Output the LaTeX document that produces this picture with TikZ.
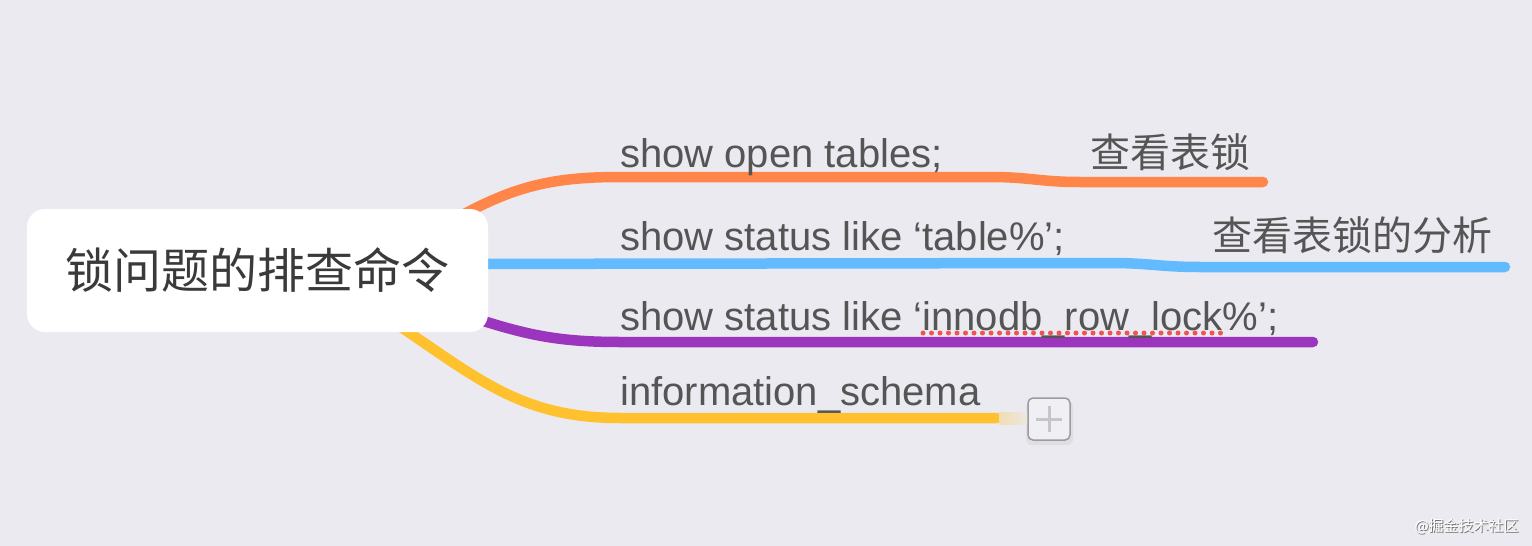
\documentclass[tikz,border=0pt]{standalone}
\usepackage{fontspec}
\setmainfont{Liberation Sans}
\newfontfamily\cjk{Noto Sans CJK SC}
\usetikzlibrary{calc}
\definecolor{bg}{HTML}{EBEAF0}
\definecolor{orangec}{HTML}{FF8548}
\definecolor{bluec}{HTML}{62BAFF}
\definecolor{purplec}{HTML}{9B35BD}
\definecolor{yellowc}{HTML}{FFC22E}
\definecolor{txt}{HTML}{555555}
\definecolor{roottxt}{HTML}{3A3A3A}
\definecolor{dotred}{HTML}{F25252}
\definecolor{plusgray}{HTML}{9C9C9E}
\definecolor{plusfill}{HTML}{F0EFF3}
\definecolor{plusline}{HTML}{C6C6C8}
\begin{document}
\begin{tikzpicture}[x=1pt,y=-1pt,
  branch/.style={line width=10.5pt,line cap=round},
  lbl/.style={anchor=base west,inner sep=0pt,text=txt,font=\fontsize{40}{48}\selectfont},
  cjklbl/.style={anchor=base west,inner sep=0pt,text=txt,font=\fontsize{40}{48}\selectfont\cjk},
  rootbox/.style={fill=white,rounded corners=18pt,minimum width=461pt,minimum height=123pt,
    text=roottxt,font=\fontsize{48}{56}\selectfont\cjk,inner sep=0pt},
  plusbox/.style={draw=plusgray,line width=1.5pt,fill=plusfill,rounded corners=5pt,minimum size=42pt,inner sep=0pt},
  plussign/.style={draw=plusline,line width=3pt},
  dotline/.style={dotred,line width=5pt,line cap=round,dash pattern=on 0pt off 8.5pt}]
\fill[bg] (0,0) rectangle (1532,546);
\useasboundingbox (0,0) rectangle (1532,546);

% coordinates for branch ends
\coordinate (oS) at (420,240);
\coordinate (oE) at (1263,182);
\coordinate (bS) at (420,264);
\coordinate (bE) at (1505,267);
\coordinate (pS) at (420,300);
\coordinate (pE) at (1313,342);
\coordinate (yS) at (360,300);
\coordinate (yE) at (997,418);

% branches
\draw[branch,orangec] (oS) .. controls (500,190) and (540,177) .. (620,177)
  -- (990,177) .. controls (1030,177) and (1040,182) .. (1080,182) -- (oE);
\draw[branch,bluec] (bS) -- (1110,263) .. controls (1150,263) and (1160,267) .. (1200,267) -- (bE);
\draw[branch,purplec] (pS) .. controls (510,330) and (540,342) .. (620,342) -- (pE);
\draw[branch,yellowc] (yS) .. controls (470,370) and (510,418) .. (620,418) -- (yE);

% root
\node[rootbox] (root) at (257.5,270.5) {锁问题的排查命令};

% plus box
\fill[black,opacity=0.05,rounded corners=6pt] (1026,401) rectangle (1073,445);
\node[plusbox] (plus) at (1049,419) {};
\shade[left color=yellowc!32!bg,right color=yellowc!8!bg] ($(yE)+(2,-5.25)$) rectangle ($(plus.west)+(-0.75,5.25)$);
\draw[plussign] (plus.center) ++(-13,0) -- ++(26,0);
\draw[plussign] (plus.center) ++(0,-13) -- ++(0,26);

% red dotted underline
\coordinate (dA) at (923,333);
\coordinate (dB) at (1222,333);
\draw[dotline] (dA) -- (dB);

% labels
\node[lbl] (l1) at (620,167) {show open tables;};
\node[cjklbl] (c1) at (1090,167) {查看表锁};
\node[lbl] (l2) at (620,250) {show status like ‘table\%’;};
\node[cjklbl] (c2) at (1212,250) {查看表锁的分析};
\node[lbl] (l3) at (620,330) {show status like ‘innodb\_row\_lock\%’;};
\node[lbl] (l4) at (620,405) {information\_schema};

% watermark
\node[text=black!55,font=\fontsize{15}{18}\selectfont\cjk,inner sep=0pt] (wm0) at (1467.6,527.6) {@掘金技术社区};
\node[text=white,font=\fontsize{15}{18}\selectfont\cjk,inner sep=0pt] (wm) at (1466.6,526.6) {@掘金技术社区};
\end{tikzpicture}
\end{document}
